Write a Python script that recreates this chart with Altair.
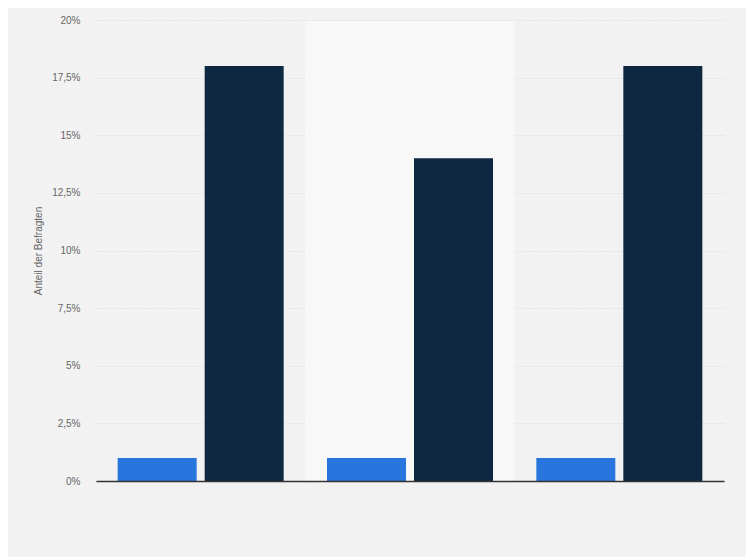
import altair as alt
import pandas as pd

categories = ["Gruppe 1", "Gruppe 2", "Gruppe 3"]
series_names = ["Serie A", "Serie B"]
series_a = [1, 1, 1]
series_b = [18, 14, 18]
shade = [0, 1, 0]
y_ticks = [0, 2.5, 5, 7.5, 10, 12.5, 15, 17.5, 20]

rows = []
for c, a, b in zip(categories, series_a, series_b):
    rows.append({"cat": c, "serie": series_names[0], "wert": a})
    rows.append({"cat": c, "serie": series_names[1], "wert": b})
df = pd.DataFrame(rows)
bands = pd.DataFrame({"cat": categories, "shade": shade})

xscale = alt.Scale(domain=categories, paddingInner=0, paddingOuter=0)
xaxis = alt.Axis(title=None, labels=False, ticks=False, grid=False,
                 domain=True, domainColor="#333333", domainWidth=1.5)

band_layer = alt.Chart(bands).mark_rect().encode(
    x=alt.X("cat:N", scale=xscale, axis=xaxis, sort=categories),
    y=alt.value(1),
    y2=alt.value(461),
    fill=alt.condition(alt.datum.shade == 1, alt.value("#f8f8f8"), alt.value("#f2f2f2")),
    opacity=alt.condition(alt.datum.shade == 1, alt.value(1), alt.value(0)),
)

bars = alt.Chart(df).mark_bar().encode(
    x=alt.X("cat:N", scale=xscale, axis=xaxis, sort=categories),
    xOffset=alt.XOffset("serie:N", sort=series_names,
                        scale=alt.Scale(paddingInner=0.092, paddingOuter=0.249)),
    y=alt.Y("wert:Q",
            scale=alt.Scale(domain=[0, 20], nice=False),
            axis=alt.Axis(values=y_ticks, title="Anteil der Befragten",
                          labelExpr="replace(format(datum.value, '.1~f'), '.', ',') + '%'",
                          domain=False, ticks=False, grid=True,
                          gridColor="#d8d8d8", gridDash=[1, 2], gridWidth=1,
                          labelColor="#666666", labelFontSize=10, labelPadding=16,
                          labelFont="Liberation Sans",
                          titleColor="#666666", titleFontSize=10, titleFontWeight="normal",
                          titleFont="Liberation Sans", titlePadding=8)),
    color=alt.Color("serie:N", sort=series_names,
                    scale=alt.Scale(domain=series_names, range=["#2876dd", "#0f2841"]),
                    legend=None),
)

chart = alt.layer(band_layer, bars).properties(
    width=628,
    height=461,
    background="#f2f2f2",
    padding={"left": 88, "top": 12, "right": 22, "bottom": 76},
    autosize=alt.AutoSizeParams(type="none"),
).configure_view(stroke=None)

chart.save("out.html", embed_options={"renderer": "svg", "actions": False})
